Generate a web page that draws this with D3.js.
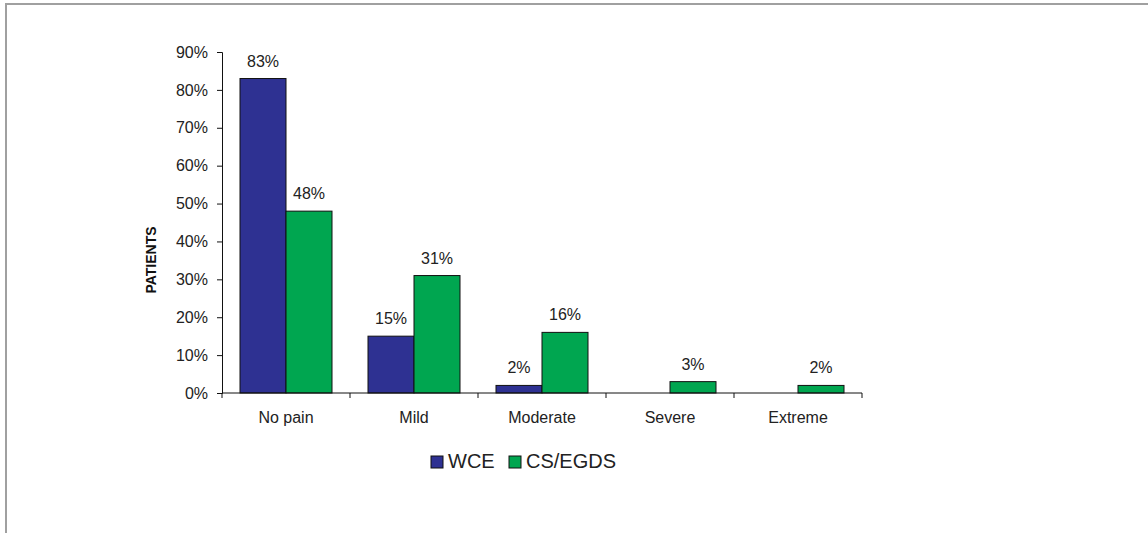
<!DOCTYPE html>
<html><head><meta charset="utf-8">
<script src="https://cdn.jsdelivr.net/npm/d3@7"></script>
<style>
html,body{margin:0;padding:0;background:#fff;}
svg{display:block;font-family:"Liberation Sans",Arial,sans-serif;}
</style></head>
<body>
<svg id="c" width="1148" height="533"></svg>
<script>
const categories = ["No pain","Mild","Moderate","Severe","Extreme"];
const seriesNames = ["WCE","CS/EGDS"];
const wceValues = [83,15,2,0,0];
const csValues = [48,31,16,3,2];
const wceLabels = ["83%","15%","2%","",""];
const csLabels = ["48%","31%","16%","3%","2%"];
const yTicks = [0,10,20,30,40,50,60,70,80,90];
const colors = ["#2E3192","#00A650"];

(function(){
const svg = d3.select("#c");
// frame
svg.append("rect").attr("x",6).attr("y",4).attr("width",1150).attr("height",540)
  .attr("fill","none").attr("stroke","#a0a0a0").attr("stroke-width",2);

const pl=222, pr=862, pt=52, pb=393;
const x0 = d3.scaleBand().domain(categories).range([pl,pr]).paddingInner(0.28125).paddingOuter(0.140625);
const x1 = d3.scaleBand().domain(seriesNames).range([0,x0.bandwidth()]);
const y = d3.scaleLinear().domain([0,90]).range([pb,pt]);

const data = categories.map((c,i)=>({c, vals:[
  {s:seriesNames[0], v:wceValues[i], l:wceLabels[i], col:colors[0]},
  {s:seriesNames[1], v:csValues[i], l:csLabels[i], col:colors[1]}]}));

const g = svg.append("g");
const grp = g.selectAll("g.cat").data(data).join("g").attr("class","cat").attr("transform",d=>`translate(${x0(d.c)},0)`);
grp.selectAll("rect").data(d=>d.vals.filter(v=>v.v>0)).join("rect")
  .attr("x",d=>x1(d.s)).attr("y",d=>y(d.v)).attr("width",x1.bandwidth()).attr("height",d=>pb-y(d.v))
  .attr("fill",d=>d.col).attr("stroke","#111").attr("stroke-width",1);
grp.selectAll("text").data(d=>d.vals.filter(v=>v.l)).join("text")
  .attr("x",d=>x1(d.s)+x1.bandwidth()/2).attr("y",d=>y(d.v)-12)
  .attr("text-anchor","middle").attr("font-size",16).attr("fill","#222").text(d=>d.l);

// y axis
const ya = d3.axisLeft(y).tickValues(yTicks).tickFormat(d=>d+"%").tickSize(5).tickPadding(9);
const yg = svg.append("g").attr("transform",`translate(${pl},0)`).call(ya);
yg.select(".domain").attr("stroke","#111");
yg.selectAll(".tick line").attr("stroke","#111");
yg.selectAll(".tick text").attr("font-size",16).attr("fill","#222").attr("font-family","Liberation Sans, Arial, sans-serif");

// x axis
const xg = svg.append("g").attr("transform",`translate(0,${pb})`);
xg.append("line").attr("x1",pl).attr("x2",pr).attr("y1",0).attr("y2",0).attr("stroke","#111");
const bounds = categories.map(c=>x0(c)-x0.step()*x0.paddingOuter());
bounds.push(pr);
xg.selectAll("line.b").data(bounds).join("line").attr("class","b")
  .attr("x1",d=>d).attr("x2",d=>d).attr("y1",0).attr("y2",5).attr("stroke","#111");
xg.selectAll("text.cl").data(categories).join("text").attr("class","cl")
  .attr("x",d=>x0(d)+x0.bandwidth()/2).attr("y",30).attr("text-anchor","middle")
  .attr("font-size",16).attr("fill","#222").text(d=>d);

// y title
svg.append("text").attr("transform","translate(156,260) rotate(-90)").attr("text-anchor","middle")
  .attr("font-size",14).attr("font-weight","bold").attr("fill","#111").text("PATIENTS");

// legend
const leg = svg.append("g");
const legItems = [{n:seriesNames[0],c:colors[0],x:431},{n:seriesNames[1],c:colors[1],x:509}];
legItems.forEach(it=>{
  leg.append("rect").attr("x",it.x).attr("y",456).attr("width",12).attr("height",12)
    .attr("fill",it.c).attr("stroke","#111").attr("stroke-width",1);
  leg.append("text").attr("x",it.x+17).attr("y",468).attr("font-size",20).attr("fill","#222").text(it.n);
});
})();
</script>
</body></html>
